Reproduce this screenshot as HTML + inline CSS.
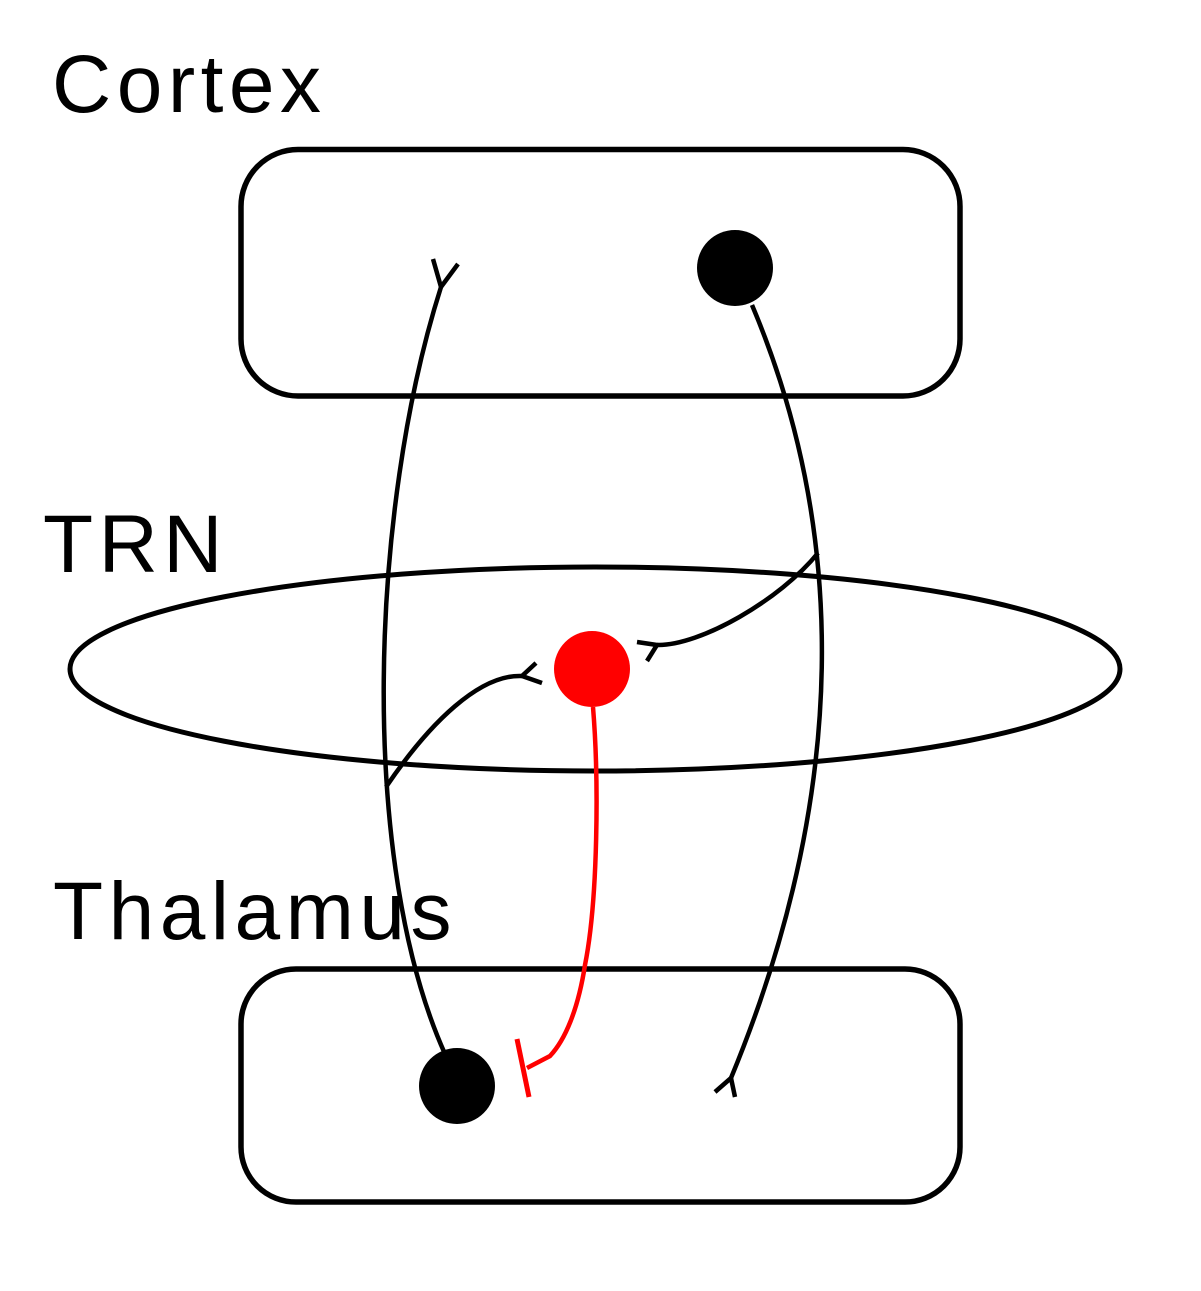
<!DOCTYPE html>
<html><head><meta charset="utf-8"><style>
html,body{margin:0;padding:0;background:#fff;}
svg{display:block;}
text{font-family:"Liberation Sans",Arial,sans-serif;font-size:82px;letter-spacing:5.5px;fill:#000;}
</style></head><body>
<svg width="1201" height="1291" viewBox="0 0 1201 1291" xmlns="http://www.w3.org/2000/svg">
<rect width="1201" height="1291" fill="#fff"/>
<text x="52" y="112">Cortex</text>
<text x="43" y="572">TRN</text>
<text x="53" y="939">Thalamus</text>
<rect x="241" y="149.5" width="719" height="246.5" rx="57" ry="57" fill="none" stroke="#000" stroke-width="5.5"/>
<rect x="241" y="969" width="719" height="233" rx="55" ry="55" fill="none" stroke="#000" stroke-width="5.5"/>
<ellipse cx="595" cy="669" rx="525" ry="102" fill="none" stroke="#000" stroke-width="5"/>
<g fill="none" stroke="#000" stroke-width="4.5">
<path d="M441,287 C 370,510 358,860 445,1054"/>
<path d="M433,259 L441,287 L458,264"/>
<path d="M752,305 C 847,530 850,790 731,1078"/>
<path d="M715,1092 L731,1078 L735,1097"/>
<path d="M818,553 C 780,600 700,646 657,645"/>
<path d="M637,642 L657,645 L647,661"/>
<path d="M386,787 C 430,722 480,674 522,676"/>
<path d="M536,663 L522,676 L542,683"/>
</g>
<path d="M593,707 C 599,780 598,900 585,965 C 578,1010 565,1040 550,1056 L 527,1068" fill="none" stroke="#f00" stroke-width="4.5"/>
<path d="M517,1039 L529,1097" fill="none" stroke="#f00" stroke-width="5"/>
<circle cx="735" cy="268" r="38" fill="#000"/>
<circle cx="592" cy="669" r="38" fill="#f00"/>
<circle cx="457" cy="1086" r="38" fill="#000"/>
</svg>
</body></html>
